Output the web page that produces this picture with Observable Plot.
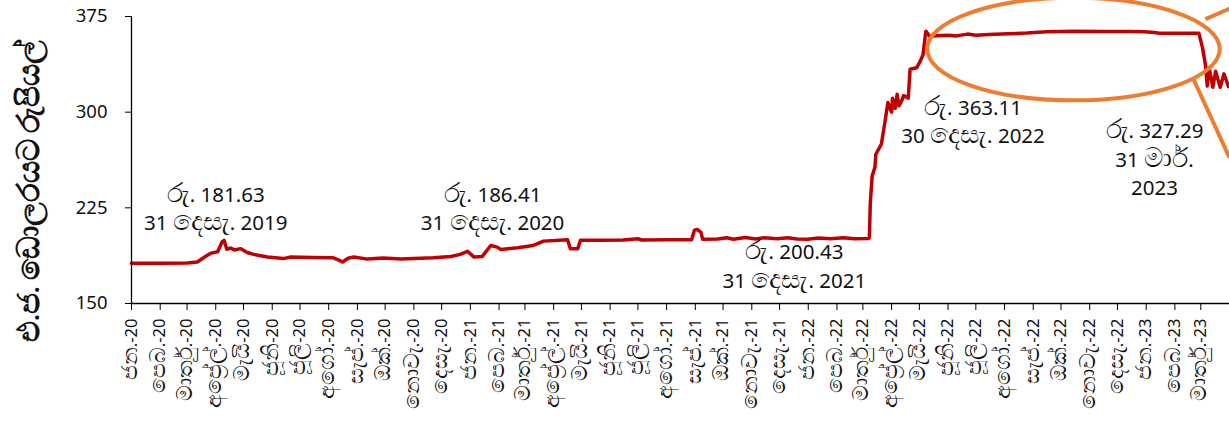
<!DOCTYPE html>
<html>
<head>
<meta charset="utf-8">
<script src="https://cdn.jsdelivr.net/npm/d3@7"></script>
<script src="https://cdn.jsdelivr.net/npm/@observablehq/plot@0.6"></script>
<style>
  html, body { margin: 0; padding: 0; background: #fff; }
  #chart { position: relative; width: 1229px; height: 433px; overflow: hidden; }
  svg { font-family: "Noto Sans", "Open Sans", sans-serif; }
</style>
</head>
<body>
<div id="chart"></div>
<script>
// ---- Data: USD/LKR exchange rate (rupees per US dollar) ----
const rateDates = [
  "2020-01-01","2020-02-01","2020-03-01","2020-03-12","2020-03-20","2020-03-27","2020-04-03","2020-04-08","2020-04-10","2020-04-13",
  "2020-04-17","2020-04-21","2020-04-28","2020-05-05","2020-05-12","2020-05-27","2020-06-13","2020-06-21","2020-07-15","2020-08-06",
  "2020-08-12","2020-08-16","2020-08-22","2020-08-28","2020-09-12","2020-09-29","2020-10-18","2020-11-22","2020-12-11","2020-12-21",
  "2020-12-29","2021-01-05","2021-01-14","2021-01-23","2021-01-30","2021-02-03","2021-02-21","2021-03-10","2021-03-21","2021-04-16",
  "2021-04-19","2021-04-27","2021-04-30","2021-05-22","2021-06-15","2021-07-01","2021-07-05","2021-08-01","2021-08-28","2021-08-31",
  "2021-09-03","2021-09-07","2021-09-09","2021-09-25","2021-10-05","2021-10-12","2021-10-25","2021-11-05","2021-11-15","2021-11-28",
  "2021-12-10","2021-12-20","2021-12-31","2022-01-12","2022-01-25","2022-02-08","2022-02-20","2022-03-07","2022-03-08","2022-03-09",
  "2022-03-11","2022-03-14","2022-03-15","2022-03-21","2022-03-25","2022-03-28","2022-04-01","2022-04-02","2022-04-05","2022-04-07",
  "2022-04-09","2022-04-12","2022-04-14","2022-04-19","2022-04-21","2022-04-28","2022-05-02","2022-05-05","2022-05-08","2022-05-12",
  "2022-05-20","2022-06-01","2022-06-10","2022-06-22","2022-07-01","2022-07-15","2022-08-05","2022-08-25","2022-09-15","2022-10-15",
  "2022-11-15","2022-12-15","2022-12-30","2023-01-10","2023-01-15","2023-02-10","2023-02-27","2023-03-03","2023-03-06","2023-03-08",
  "2023-03-10","2023-03-14","2023-03-17","2023-03-22","2023-03-26","2023-03-31"
];
const rateValues = [
  181.6,181.5,181.8,182.5,186.5,189.5,190.5,198.5,199.5,192.5,
  193.5,192.0,193.0,190.0,188.5,186.4,185.2,186.4,186.0,185.8,
  184.0,182.5,185.5,186.4,184.8,185.6,184.8,185.8,186.9,188.5,
  190.9,186.4,186.9,195.5,194.2,192.4,193.7,195.5,198.9,200.0,
  193.0,193.0,199.6,199.6,199.7,200.8,199.8,199.9,200.0,207.5,
  208.0,206.0,200.3,200.5,201.5,200.4,201.8,200.6,201.6,200.8,
  201.5,200.6,200.43,201.4,200.7,201.5,200.8,201.0,201.5,228.4,
  250.0,256.7,267.0,275.0,293.0,307.5,300.0,311.0,303.0,314.0,
  305.0,309.0,313.0,311.0,333.6,334.8,340.0,345.0,363.5,359.6,
  360.0,360.3,359.8,361.2,360.3,360.8,361.5,362.0,363.0,363.4,
  363.3,363.3,363.11,362.5,361.8,361.8,361.8,350.0,337.0,320.5,
  335.0,319.5,332.0,319.5,330.0,320.0
];

// ---- Axis ticks ----
const xTickLabels = [
  "ජන.-20","පෙබ.-20","මාර්තු.-20","අප්‍රේල්.-20","මැයි-20","ජූනි-20","ජූලි-20","අගෝ.-20","සැප්.-20","ඔක්.-20","නොවැ.-20","දෙසැ.-20",
  "ජන.-21","පෙබ.-21","මාර්තු.-21","අප්‍රේල්.-21","මැයි-21","ජූනි-21","ජූලි-21","අගෝ.-21","සැප්.-21","ඔක්.-21","නොවැ.-21","දෙසැ.-21",
  "ජන.-22","පෙබ.-22","මාර්තු.-22","අප්‍රේල්.-22","මැයි-22","ජූනි-22","ජූලි-22","අගෝ.-22","සැප්.-22","ඔක්.-22","නොවැ.-22","දෙසැ.-22",
  "ජන.-23","පෙබ.-23","මාර්තු.-23"
];
const yTicks = [150, 225, 300, 375];
const yTitle = "එ.ජ. ඩොලරයට රුපියල්";

// ---- Annotations ----
const noteTexts = [
  "රු. 181.63\n31 දෙසැ. 2019",
  "රු. 186.41\n31 දෙසැ. 2020",
  "රු. 200.43\n31 දෙසැ. 2021",
  "රු. 363.11\n30 දෙසැ. 2022",
  "රු. 327.29\n31 මාර්.\n2023"
];
const noteDates = ["2020-04-01","2021-01-25","2021-12-17","2022-06-28","2023-01-10"];
const noteValues = [225.6, 225.6, 180.7, 294.0, 264.5];

// highlight ellipse (data coordinates) and leader lines
const ellipseCenter = {date: "2022-10-15", value: 349.1};
const ellipseRightDate = "2023-03-22";
const ellipseTopValue = 389.3;
const leaderX1 = ["2023-02-21","2023-03-06"];
const leaderY1 = [326.0, 372.9];
const leaderX2 = ["2023-04-01","2023-04-12"];
const leaderY2 = [264.3, 384.6];

// ---- Build ----
const parse = d3.utcParse("%Y-%m-%d");
const series = rateDates.map((d, i) => ({date: parse(d), value: rateValues[i]}));
const tickDates = xTickLabels.map((_, i) => d3.utcMonth.offset(parse("2020-01-01"), i));
const labelByTime = new Map(tickDates.map((d, i) => [+d, xTickLabels[i]]));
const notes = noteTexts.map((t, i) => ({text: t, date: parse(noteDates[i]), value: noteValues[i]}));
const leaders = leaderX1.map((d, i) => ({x1: parse(d), y1: leaderY1[i], x2: parse(leaderX2[i]), y2: leaderY2[i]}));

const x0 = parse("2020-01-01"), xEnd = parse("2023-04-01");

function ellipseMark(index, scales) {
  const cx = scales.x(parse(ellipseCenter.date));
  const cy = scales.y(ellipseCenter.value);
  const rx = scales.x(parse(ellipseRightDate)) - cx;
  const ry = cy - scales.y(ellipseTopValue);
  return d3.create("svg:ellipse")
    .attr("cx", cx).attr("cy", cy).attr("rx", rx).attr("ry", ry)
    .attr("fill", "none").attr("stroke", "#ED7D31").attr("stroke-width", 4)
    .node();
}

const chart = Plot.plot({
  width: 1229,
  height: 433,
  marginLeft: 131,
  marginRight: 0,
  marginTop: 16,
  marginBottom: 130,
  style: {fontFamily: "'Noto Sans', 'Open Sans', sans-serif", overflow: "hidden", background: "#fff"},
  x: {type: "utc", domain: [x0, xEnd]},
  y: {domain: [150, 375]},
  marks: [
    Plot.line(series, {x: "date", y: "value", stroke: "#C00000", strokeWidth: 3.5, curve: "linear"}),
    Plot.ruleY([150], {stroke: "#000", strokeWidth: 1.3}),
    Plot.ruleX([x0], {y1: 150, y2: 375, stroke: "#000", strokeWidth: 1.3}),
    Plot.axisY({ticks: yTicks, tickSize: 6, tickPadding: 18, fontSize: 18.5, label: null, stroke: "#000", fill: "#111"}),
    Plot.axisX(tickDates, {
      tickFormat: d => labelByTime.get(+d),
      tickRotate: -90, tickSize: 7, tickPadding: 8, fontSize: 16.5, label: null, stroke: "#000", fill: "#111"
    }),
    Plot.text(notes, {x: "date", y: "value", text: "text", fontSize: 20.5, lineHeight: 1.38, fill: "#111", lineAnchor: "middle"}),
    ellipseMark,
    Plot.link(leaders, {x1: "x1", y1: "y1", x2: "x2", y2: "y2", stroke: "#ED7D31", strokeWidth: 4})
  ]
});

// y-axis title
d3.select(chart).append("text")
  .attr("transform", "translate(39,191) rotate(-90)")
  .attr("text-anchor", "middle")
  .attr("font-size", 23.5)
  .attr("font-weight", "bold")
  .attr("fill", "#111")
  .text(yTitle);

// Sinhala glyphs in the fallback font are drawn small; enlarge Sinhala runs.
function enlargeSinhala(root, scale) {
  const walker = document.createTreeWalker(root, NodeFilter.SHOW_TEXT);
  const nodes = [];
  while (walker.nextNode()) nodes.push(walker.currentNode);
  for (const n of nodes) {
    const parts = n.nodeValue.split(/([\u0D80-\u0DFF\u200D]+)/);
    if (parts.length === 1) continue;
    const frag = document.createDocumentFragment();
    for (const p of parts) {
      if (!p) continue;
      if (/[\u0D80-\u0DFF]/.test(p)) {
        const t = document.createElementNS("http://www.w3.org/2000/svg", "tspan");
        t.setAttribute("font-size", scale + "em");
        t.textContent = p;
        frag.appendChild(t);
      } else frag.appendChild(document.createTextNode(p));
    }
    n.parentNode.replaceChild(frag, n);
  }
}
enlargeSinhala(chart, 1.32);
document.getElementById("chart").appendChild(chart);
</script>
</body>
</html>
